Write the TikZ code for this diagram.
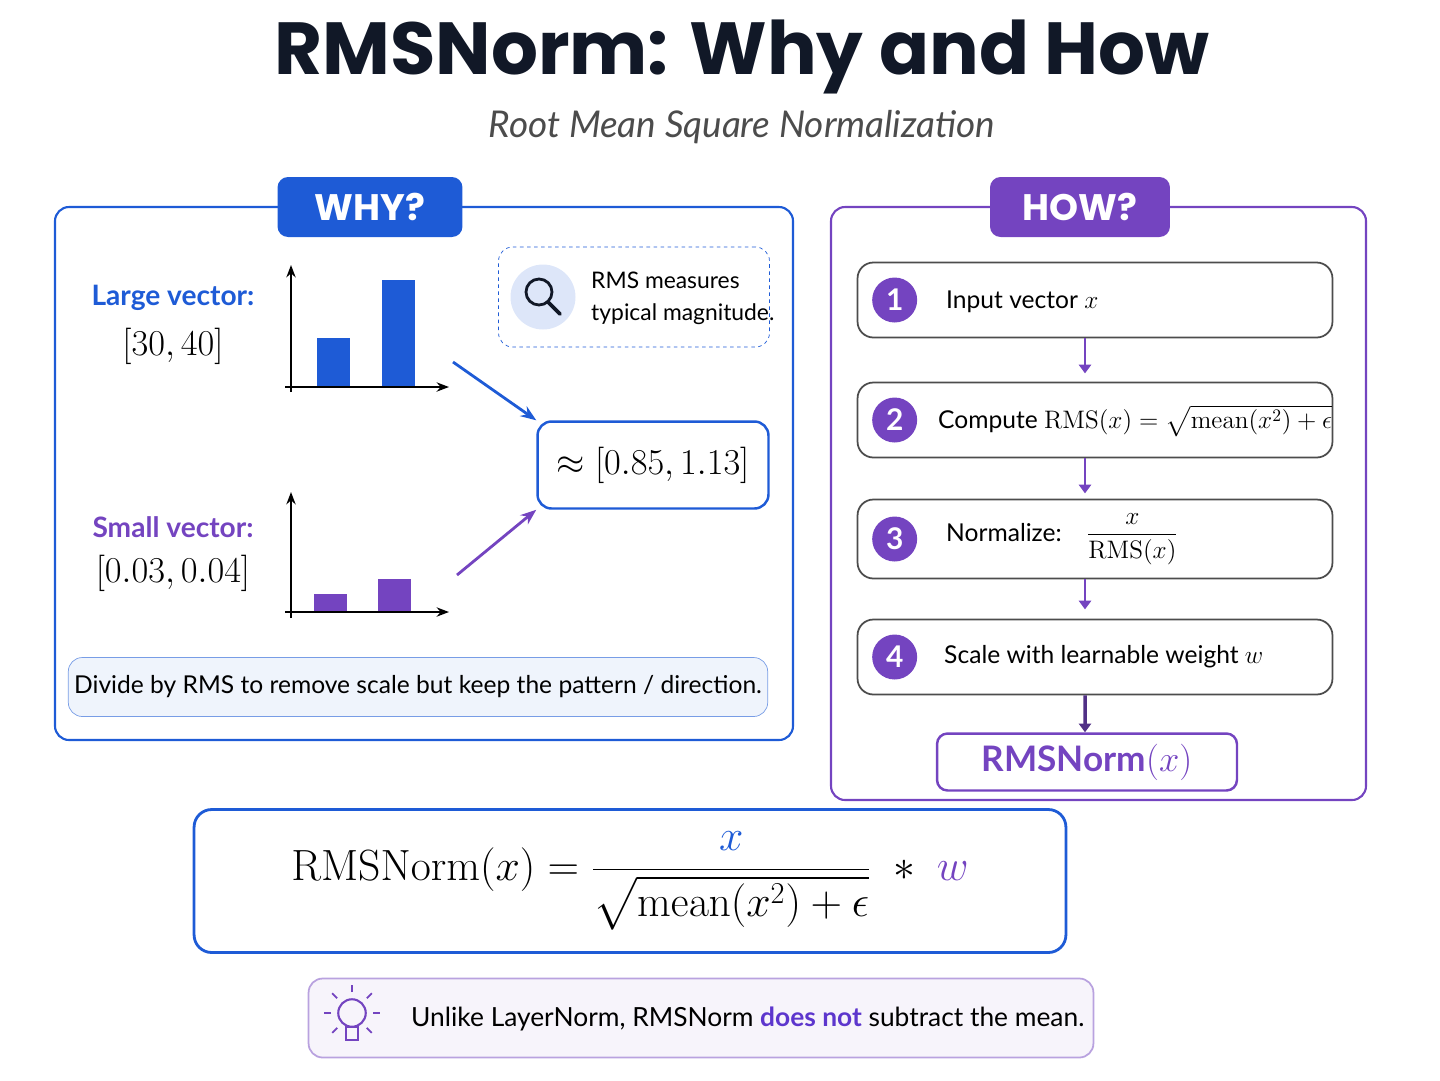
\documentclass[tikz,border=0pt]{standalone}
\usepackage{amsmath}
\usepackage[no-math]{fontspec}
\setmainfont{Lato}
\newfontfamily\titlefont{Poppins}
\usetikzlibrary{arrows.meta, positioning}
\definecolor{whyblue}{HTML}{1E5BD6}
\definecolor{howpurple}{HTML}{7444C0}
\definecolor{inkdark}{HTML}{111827}
\begin{document}
\begin{tikzpicture}[x=0.02cm, y=-0.02cm, font=\fontsize{14}{17}\selectfont,
  panel/.style = {draw, rounded corners=8pt, line width=1.2pt},
  tab/.style = {rounded corners=6pt, text=white, font=\titlefont\bfseries\fontsize{21}{25}\selectfont, minimum height=1.2cm},
  stepbox/.style = {draw=black!70, rounded corners=9pt, line width=1pt, minimum width=9.5cm, minimum height=1.5cm},
  num/.style = {circle, fill=howpurple, text=white, minimum size=0.9cm, inner sep=0pt, font=\bfseries\fontsize{17}{20}\selectfont},
  down/.style = {-{Triangle[length=5pt,width=7pt]}, line width=1.6pt, howpurple},
  bar/.style = {minimum width=0.66cm, inner sep=0pt, anchor=south}]
  \useasboundingbox (0,0) rectangle (1440,1080);
  % title
  \node (title) at (742,57) {\titlefont\bfseries\fontsize{42}{46}\selectfont\color{inkdark}RMSNorm: Why and How};
  \node (sub) at (742,127) {\itshape\fontsize{21}{25}\selectfont\color{black!70}Root Mean Square Normalization};

  % WHY panel
  \draw[panel, whyblue] (55,207) rectangle (793,740);
  \node (why) [tab, fill=whyblue, minimum width=3.7cm] at (370,207) {WHY?};
  \node (large) [whyblue, font=\bfseries\fontsize{16}{19}\selectfont] at (173,298) {Large vector:};
  \node (largev) at (173,346) {\fontsize{22}{26}\selectfont$[30,40]$};
  \draw[-{Stealth[length=7pt]}, line width=1.4pt] (291,392) -- (291,265);
  \draw[-{Stealth[length=7pt]}, line width=1.4pt] (285,387) -- (449,387);
  \node (b1) [bar, fill=whyblue, minimum height=0.96cm] at (333,386) {};
  \node (b2) [bar, fill=whyblue, minimum height=2.12cm] at (398,386) {};
  \node (small) [howpurple, font=\bfseries\fontsize{16}{19}\selectfont] at (173,527) {Small vector:};
  \node (smallv) at (173,573) {\fontsize{22}{26}\selectfont$[0.03,0.04]$};
  \draw[-{Stealth[length=7pt]}, line width=1.4pt] (291,618) -- (291,492);
  \draw[-{Stealth[length=7pt]}, line width=1.4pt] (285,612) -- (449,612);
  \node (b3) [bar, fill=howpurple, minimum height=0.34cm] at (330,611) {};
  \node (b4) [bar, fill=howpurple, minimum height=0.64cm] at (394,611) {};
  % note with magnifier
  \node (note) [draw=whyblue, dashed, dash pattern=on 2pt off 2pt, rounded corners=8pt, minimum width=5.42cm, minimum height=2cm] at (634,297) {};
  \node (lens) [circle, fill=whyblue!15, minimum size=1.3cm] at (543,297) {};
  \draw[line width=1.6pt, inkdark] (539,292) circle (13);
  \draw[line width=2.2pt, inkdark, line cap=round] (548,302) -- (560,314);
  \node (notetxt) [anchor=west, align=left, font=\fontsize{13}{18}\selectfont] at (585,298) {RMS measures\\typical magnitude.};
  \node (result) [draw=whyblue, rounded corners=8pt, line width=1.4pt, minimum width=4.62cm, minimum height=1.74cm] at (653,465) {\fontsize{22}{26}\selectfont$\approx[0.85,1.13]$};
  \coordinate (bigend) at (453,362);
  \coordinate (smallend) at (457,575);
  \draw[-{Stealth[length=9pt]}, whyblue, line width=1.6pt] (bigend) -- (result.north west);
  \draw[-{Stealth[length=9pt]}, howpurple, line width=1.6pt] (smallend) -- (result.south west);
  \node (divide) [draw=whyblue!60, fill=whyblue!7, rounded corners=8pt, minimum width=13.4cm, minimum height=1.18cm] at (418,687) {Divide by RMS to remove scale but keep the pattern / direction.};

  % HOW panel
  \draw[panel, howpurple] (831,207) rectangle (1366,800);
  \node (how) [tab, fill=howpurple, minimum width=3.6cm] at (1080,207) {HOW?};
  \node (s1) [stepbox] at (1095,300) {};
  \node (s2) [stepbox] at (1095,420) {};
  \node (s3) [stepbox, minimum height=1.58cm] at (1095,539) {};
  \node (s4) [stepbox] at (1095,657) {};
  \foreach \s/\n in {s1/1, s2/2, s3/3, s4/4}
    \node (n\s) [num] at ([xshift=0.76cm]\s.west) {\n};
  \node (t1) [anchor=west] at (940,302) {Input vector $x$};
  \node (t2) [anchor=west] at (932,421) {Compute $\mathrm{RMS}(x)=\sqrt{\mathrm{mean}(x^2)+\epsilon}$};
  \node (t3) [anchor=west] at (940,539) {Normalize:\quad $\dfrac{x}{\mathrm{RMS}(x)}$};
  \node (t4) [anchor=west] at (938,657) {Scale with learnable weight $w$};
  \node (out) [draw=howpurple, rounded corners=6pt, line width=1.4pt, minimum width=6cm, minimum height=1.14cm, text=howpurple, font=\bfseries\fontsize{20}{24}\selectfont] at (1087,762) {RMSNorm$(x)$};
  \draw[down] ([xshift=-0.2cm]s1.south) -- ([xshift=-0.2cm, yshift=-0.7cm]s1.south);
  \draw[down] ([xshift=-0.2cm]s2.south) -- ([xshift=-0.2cm, yshift=-0.7cm]s2.south);
  \draw[down] ([xshift=-0.2cm]s3.south) -- ([xshift=-0.2cm, yshift=-0.6cm]s3.south);
  \draw[down, line width=2pt, howpurple!70!black] ([xshift=-0.2cm]s4.south) -- ([xshift=-0.04cm]out.north);

  % formula
  \node (formula) [draw=whyblue, rounded corners=10pt, line width=1.6pt, minimum width=17.44cm, minimum height=2.86cm] at (630,881)
    {\fontsize{27}{32}\selectfont$\mathrm{RMSNorm}(x)=\dfrac{\color{whyblue}x}{\sqrt{\mathrm{mean}(x^2)+\epsilon}}\;*\;{\color{howpurple}w}$};

  % tip
  \node (tip) [draw=howpurple!50, fill=howpurple!6, rounded corners=8pt, line width=1pt, minimum width=15.7cm, minimum height=1.58cm] at (701,1018) {};
  \node (tiptxt) [anchor=west, font=\fontsize{15}{18}\selectfont] at (405,1019) {Unlike LayerNorm, RMSNorm {\bfseries\color{howpurple!80!blue}does not} subtract the mean.};
  \node (bulb) [circle, draw=howpurple, line width=1.2pt, minimum size=0.55cm] at (352,1013) {};
  \draw[howpurple, line width=1.2pt] (346,1027) rectangle (358,1040);
  \foreach \a in {0,45,135,180,225,-45,90}
    \draw[howpurple, line width=1pt] ([shift={(\a:0.42cm)}]bulb.center) -- ([shift={(\a:0.56cm)}]bulb.center);
\end{tikzpicture}
\end{document}
